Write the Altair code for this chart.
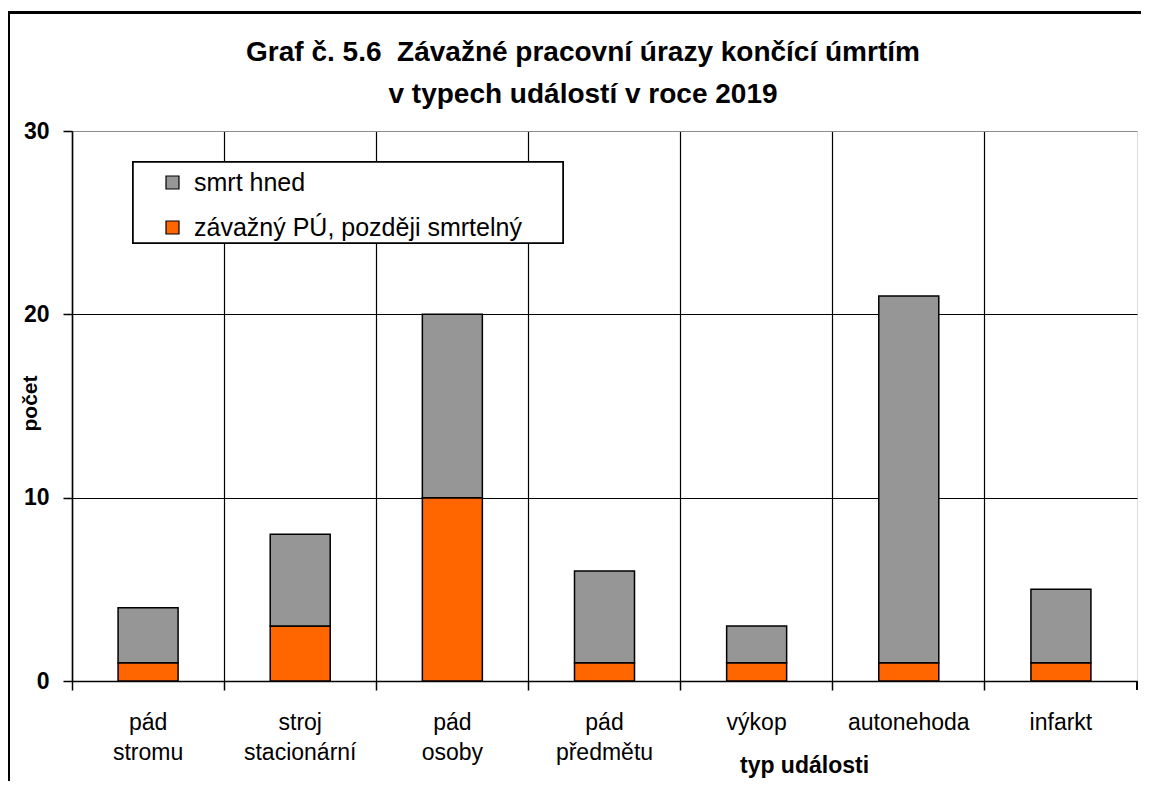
import altair as alt
import pandas as pd

categories = ["pád\nstromu", "stroj\nstacionární", "pád\nosoby", "pád\npředmětu",
              "výkop", "autonehoda", "infarkt"]
series = ["smrt hned", "závažný PÚ, později smrtelný"]
smrt_hned = [3, 5, 10, 5, 2, 20, 4]
pozdeji_smrtelny = [1, 3, 10, 1, 1, 1, 1]
title_lines = ["Graf č. 5.6\u00a0 Závažné pracovní úrazy končící úmrtím", "v typech událostí v roce 2019"]

rows = []
for i, c in enumerate(categories):
    rows.append({"kat": c, "serie": series[1], "pocet": pozdeji_smrtelny[i], "poradi": 0})
    rows.append({"kat": c, "serie": series[0], "pocet": smrt_hned[i], "poradi": 1})
df = pd.DataFrame(rows)

FONT = "Liberation Sans"
W, H = 1065, 550

bars = alt.Chart(df).mark_bar(size=60, stroke="black", strokeWidth=1.5).encode(
    x=alt.X("kat:N", sort=categories,
            scale=alt.Scale(paddingInner=0, paddingOuter=0),
            axis=alt.Axis(
                title="typ události", titleFont=FONT, titleFontSize=23, titleFontWeight="bold",
                titleX=732, titleY=84, titleAlign="center", titleBaseline="middle",
                labelExpr="split(datum.label, '\\n')", labelFont=FONT, labelFontSize=23,
                labelColor="black", labelLineHeight=30, labelPadding=32, labelAngle=0,
                labelBaseline="middle",
                bandPosition=0, tickSize=9, tickColor="black", tickWidth=1.5,
                domainColor="black", domainWidth=1.5,
                grid=True, gridColor="black", gridWidth=1.2)),
    y=alt.Y("pocet:Q", stack="zero",
            scale=alt.Scale(domain=[0, 30], nice=False),
            axis=alt.Axis(
                title="počet", titleFont=FONT, titleFontSize=21, titleFontWeight="bold",
                titleX=-42, titleY=272, titleAlign="center", titleBaseline="middle",
                values=[0, 10, 20, 30], labelFont=FONT, labelFontSize=23,
                labelFontWeight="bold", labelColor="black", labelPadding=14,
                tickSize=9, tickColor="black", tickWidth=1.5,
                domainColor="black", domainWidth=1.5,
                grid=True, gridWidth=1.2,
                gridColor={"condition": {"test": "datum.value == 30", "value": "#8c8c8c"},
                           "value": "black"})),
    color=alt.Color("serie:N", scale=alt.Scale(domain=series, range=["#969696", "#FF6600"]),
                    legend=alt.Legend(
                        title=None, orient="none", legendX=88, legendY=39,
                        symbolType="square", symbolSize=169, symbolStrokeColor="black",
                        symbolStrokeWidth=1.2, labelFont=FONT, labelFontSize=25,
                        labelColor="black", labelOffset=9, rowPadding=19, padding=0,
                        labelLimit=600)),
    order=alt.Order("poradi:Q", sort="ascending"),
)

legend_box = alt.Chart(df).mark_rect(fill="white", stroke="black", strokeWidth=1.5).encode(
    x=alt.value(61), x2=alt.value(491), y=alt.value(31), y2=alt.value(112))

frame = alt.Chart(df).mark_rect(fill=None, stroke="black", strokeWidth=2, clip=False).encode(
    x=alt.value(-63), x2=alt.value(1200), y=alt.value(-118.5), y2=alt.value(800))

end_tick = alt.Chart(df).mark_rule(color="black", strokeWidth=1.5).encode(
    x=alt.value(W), y=alt.value(H), y2=alt.value(H + 9))

title1 = alt.Chart(pd.DataFrame({"t": [title_lines[0]]})).mark_text(
    font=FONT, fontSize=28, fontWeight="bold", color="black", align="center",
    baseline="alphabetic").encode(text="t:N", x=alt.value(511), y=alt.value(-70))
title2 = alt.Chart(pd.DataFrame({"t": [title_lines[1]]})).mark_text(
    font=FONT, fontSize=28, fontWeight="bold", color="black", align="center",
    baseline="alphabetic").encode(text="t:N", x=alt.value(511), y=alt.value(-28))

chart = alt.layer(frame, legend_box, bars, end_tick, title1, title2).properties(
    width=W, height=H,
    padding={"left": 64, "top": 123, "right": 4, "bottom": 100},
    autosize=alt.AutoSizeParams(type="none"),
).configure_view(stroke="#8c8c8c", strokeWidth=1.5).configure(background="white")

chart.save("out.html", embed_options={"renderer": "svg", "actions": False})
